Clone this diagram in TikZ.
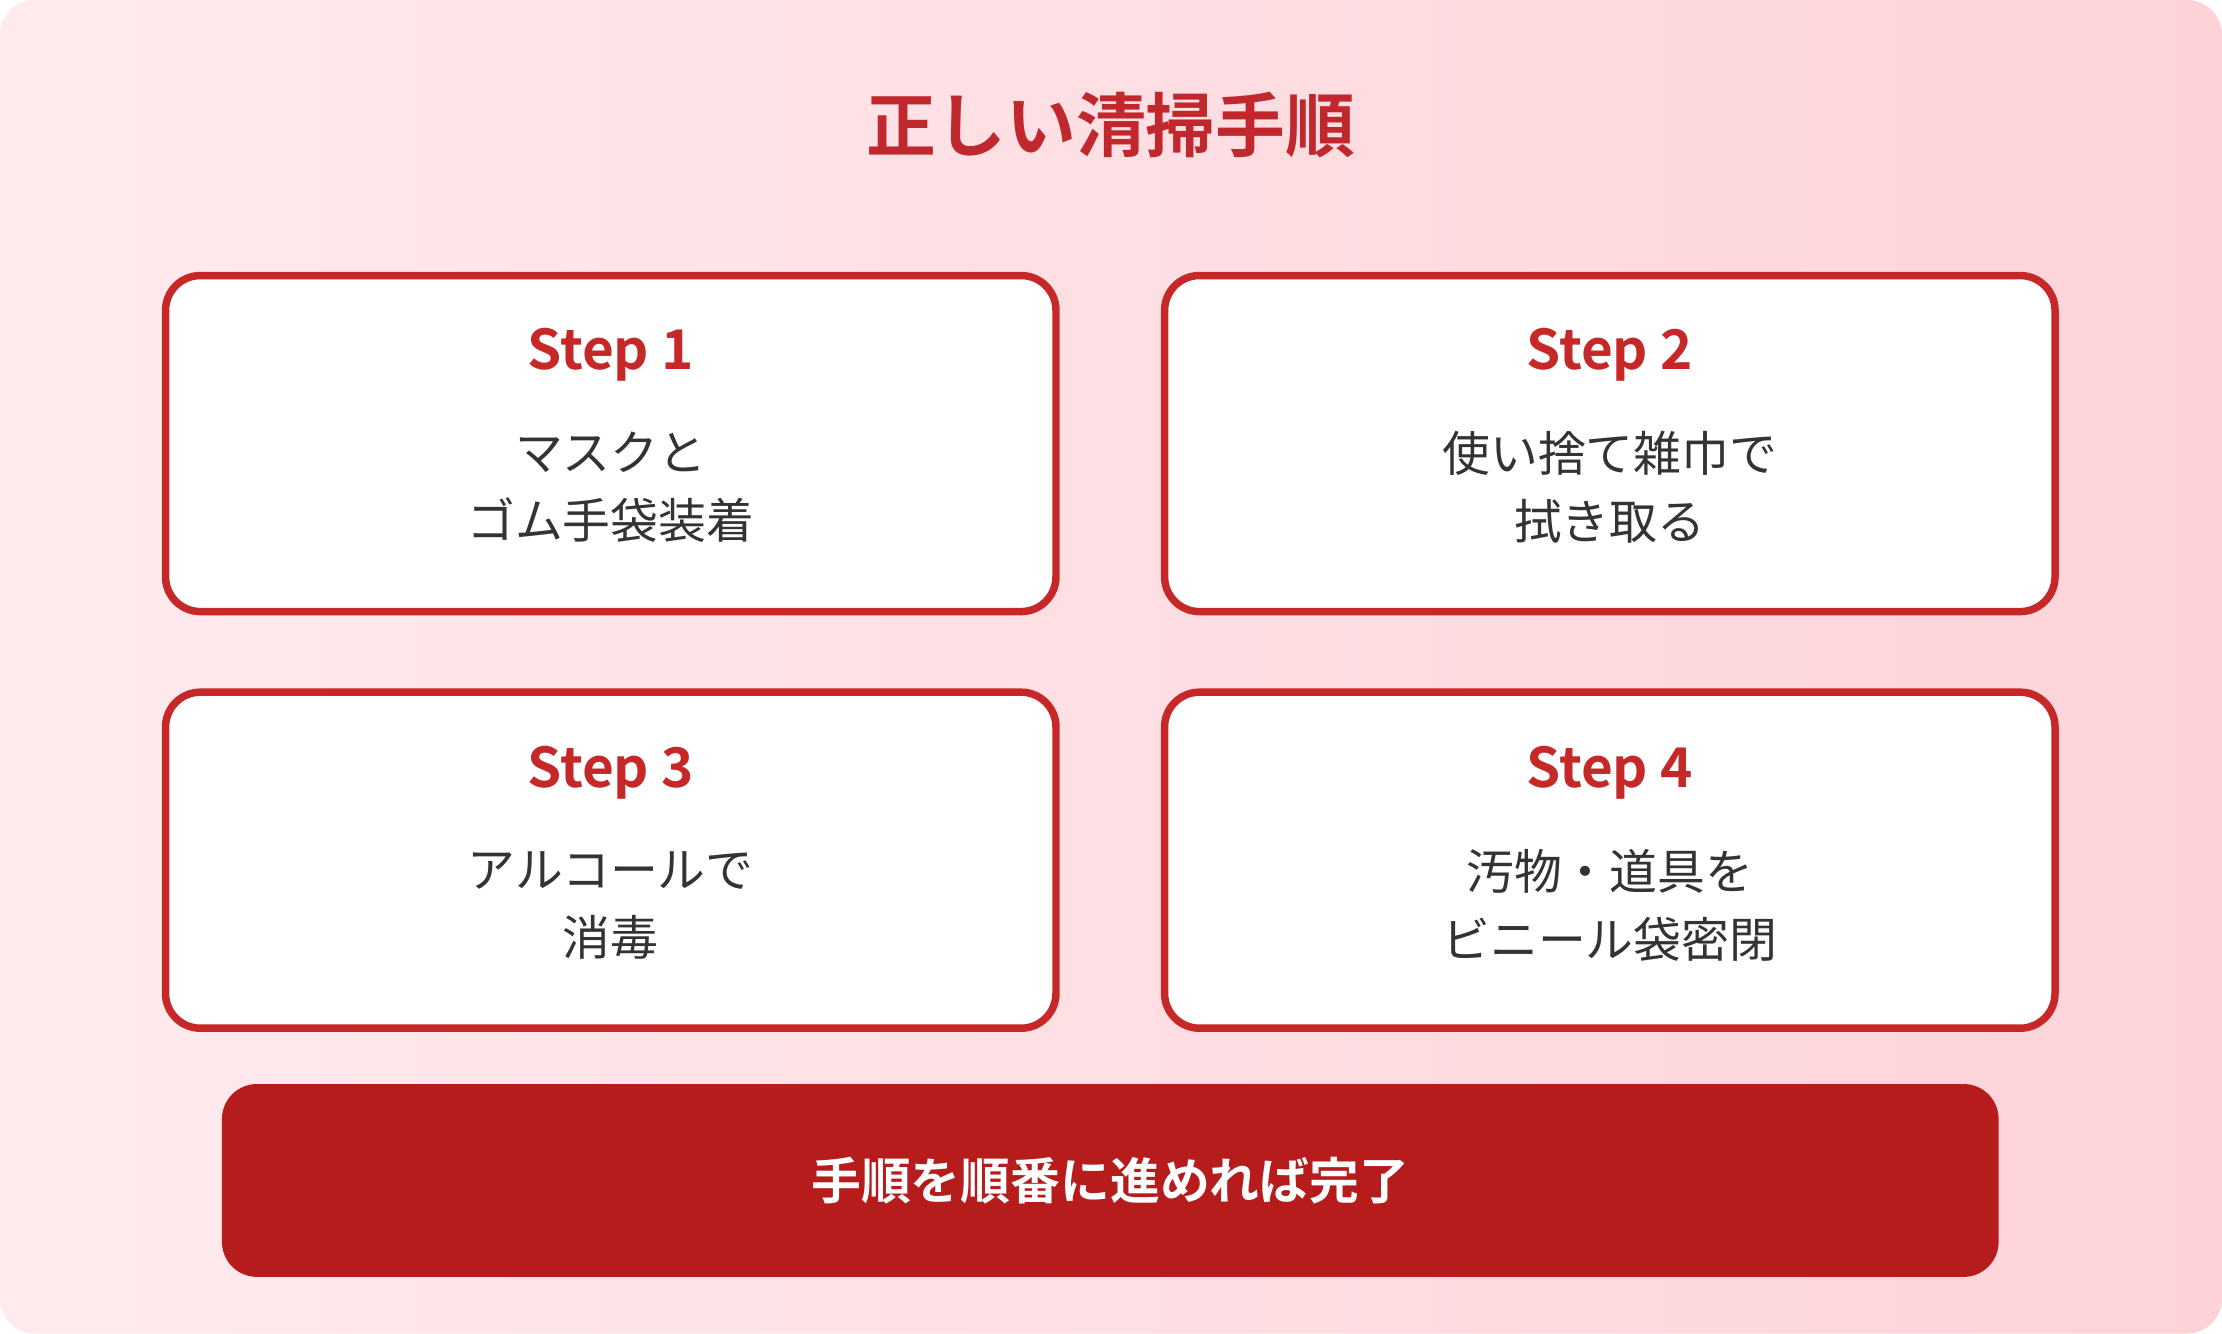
\documentclass[tikz,border=0pt]{standalone}
\usepackage{fontspec}
\setmainfont{Noto Sans CJK JP}
\newfontfamily\jpbold{Noto Sans CJK JP Bold}
\usetikzlibrary{positioning}
\definecolor{titlered}{HTML}{C0282D}
\definecolor{boxred}{HTML}{C62828}
\definecolor{barred}{HTML}{B71C1C}
\definecolor{bgtop}{HTML}{FFEBEE}
\definecolor{bgbot}{HTML}{FDD3D8}
\definecolor{bodygray}{HTML}{333333}
\tikzset{
  stepbox/.style={draw=boxred, line width=1.5pt, fill=white, rounded corners=7pt,
    minimum width=6.28cm, minimum height=2.37cm},
  steptitle/.style={text=boxred, font=\jpbold\fontsize{11}{13}\selectfont},
  stepbody/.style={text=bodygray, align=center, font=\fontsize{9.6}{13.6}\selectfont}
}
\begin{document}
\begin{tikzpicture}[x=0.01cm,y=-0.01cm]
    \useasboundingbox (0,0) rectangle (1568,941);
    \shade[rounded corners=7pt, left color=bgtop, right color=bgbot] (0,0) rectangle (1568,941);
    \node[text=titlered, font=\jpbold\fontsize{14}{16}\selectfont] (title) at (784,88) {正しい清掃手順};
    % four steps
    \node[stepbox] (s1) at (431,313) {};
    \node[stepbox] (s2) at (1136,313) {};
    \node[stepbox] (s3) at (431,607) {};
    \node[stepbox] (s4) at (1136,607) {};
    \node[steptitle] (t1) at (431,250) {Step 1};
    \node[steptitle] (t2) at (1136,250) {Step 2};
    \node[steptitle] (t3) at (431,545) {Step 3};
    \node[steptitle] (t4) at (1136,545) {Step 4};
    \node[stepbody] (b1) at (431,344) {マスクと\\ゴム手袋装着};
    \node[stepbody] (b2) at (1136,344) {使い捨て雑巾で\\拭き取る};
    \node[stepbody] (b3) at (431,639) {アルコールで\\消毒};
    \node[stepbody] (b4) at (1136,639) {汚物・道具を\\ビニール袋密閉};
    % bottom bar
    \node[fill=barred, rounded corners=7pt, minimum width=12.53cm, minimum height=1.36cm,
      text=white, font=\jpbold\fontsize{10}{12}\selectfont] (done) at (783.5,833) {手順を順番に進めれば完了};
\end{tikzpicture}
\end{document}
